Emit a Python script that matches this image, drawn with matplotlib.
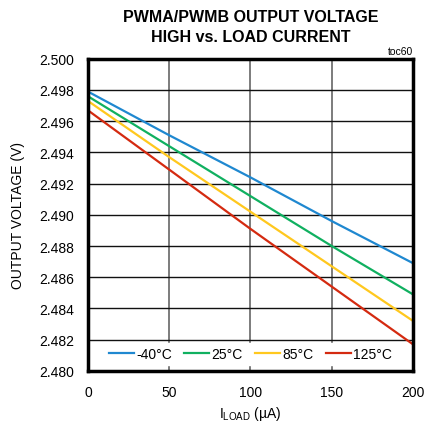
import matplotlib
matplotlib.use("Agg")
import matplotlib.pyplot as plt
import numpy as np

plt.rcParams['font.family'] = ['Liberation Sans', 'DejaVu Sans']

load_ua = [0, 50, 100, 150, 200]
v_m40 = [2.4979, 2.4951, 2.4924, 2.4896, 2.4869]
v_25 = [2.4976, 2.4944, 2.4912, 2.4880, 2.4849]
v_85 = [2.4973, 2.4937, 2.4902, 2.4867, 2.4832]
v_125 = [2.4967, 2.4929, 2.4891, 2.4854, 2.4817]
labels = ['-40°C', '25°C', '85°C', '125°C']
colors = ['#1f88d0', '#10b060', '#ffc81e', '#d42a10']

fig = plt.figure(figsize=(4.33, 4.27), dpi=100)
ax = fig.add_axes([0.203, 0.129, 0.751, 0.731])
for vals, lab, c in zip([v_m40, v_25, v_85, v_125], labels, colors):
    ax.plot(load_ua, vals, color=c, lw=1.6, label=lab)

ax.set_xlim(0, 200)
ax.set_ylim(2.480, 2.500)
ax.set_xticks([0, 50, 100, 150, 200])
yt = np.arange(2.480, 2.5001, 0.002)
ax.set_yticks(yt)
ax.set_yticklabels([f"{v:.3f}" for v in yt])
ax.xaxis.grid(True, color='#666666', lw=1.2)
ax.yaxis.grid(True, color='#111111', lw=1.0)
ax.set_axisbelow(True)
ax.tick_params(axis='y', length=0, labelsize=10, pad=10)
ax.tick_params(axis='x', length=0, labelsize=10, pad=10)
for s in ax.spines.values():
    s.set_linewidth(2.5)
    s.set_color('black')

ax.set_ylabel('OUTPUT VOLTAGE (V)', fontsize=10, labelpad=10)
ax.set_xlabel('I$_{\\mathregular{LOAD}}$ (µA)', fontsize=10, labelpad=4)
fig.text(0.578, 0.935, 'PWMA/PWMB OUTPUT VOLTAGE\nHIGH vs. LOAD CURRENT', ha='center', va='center',
         fontsize=11.5, fontweight='bold', linespacing=1.45)
ax.text(1.0, 1.01, 'toc60', transform=ax.transAxes, ha='right', va='bottom', fontsize=7.5)

leg = ax.legend(loc='lower center', ncol=4, frameon=True, fontsize=10, handlelength=1.8,
                handletextpad=0.15, columnspacing=0.9, borderaxespad=0.2, borderpad=0.3,
                fancybox=False, edgecolor='white', framealpha=1.0, bbox_to_anchor=(0.5, 0.01))

fig.savefig('out.png', dpi=100)
